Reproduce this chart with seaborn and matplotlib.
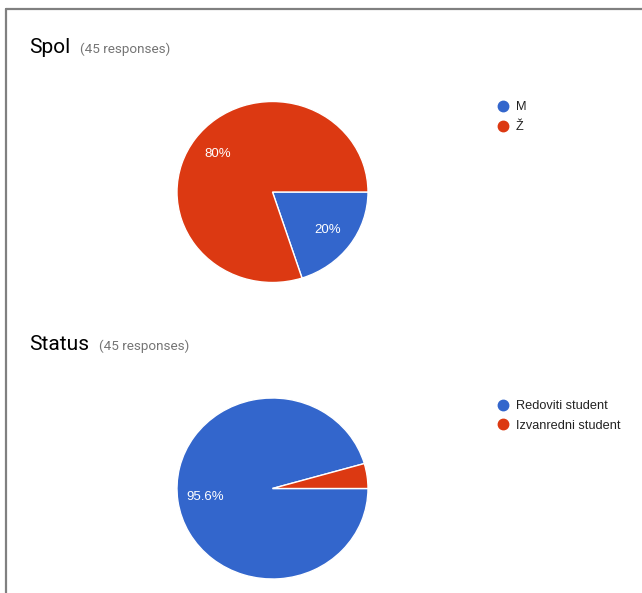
import matplotlib
matplotlib.use('Agg')
import matplotlib.pyplot as plt
import seaborn as sns
from matplotlib.lines import Line2D

# ---- data ----
spol_labels = ['M', 'Ž']
spol_counts = [9, 36]
status_labels = ['Redoviti student', 'Izvanredni student']
status_counts = [43, 2]
titles = ['Spol', 'Status']
responses_text = '(45 responses)'

sns.set_style('white')
plt.rcParams['font.family'] = ['Liberation Sans', 'DejaVu Sans']
colors = sns.color_palette(['#3366CC', '#DC3912'])

W, H = 642, 593
fig = plt.figure(figsize=(W / 100, H / 100), dpi=100)
fig.patch.set_facecolor('white')


def fx(x):
    return x / W


def fy(y):
    return 1 - y / H


def fmt(p):
    if p < 5:
        return ''
    return f'{p:.1f}'.rstrip('0').rstrip('.') + '%'


# border lines of the card (screenshot frame)
fig.add_artist(Line2D([fx(6), 1], [fy(9), fy(9)], transform=fig.transFigure,
                      color='#808080', lw=1.6))
fig.add_artist(Line2D([fx(6), fx(6)], [fy(9), 0], transform=fig.transFigure,
                      color='#808080', lw=1.6))

panels = [
    dict(title=titles[0], labels=spol_labels, counts=spol_counts,
         cy=192, title_base=53, resp_x=80, leg_top=101.5),
    dict(title=titles[1], labels=status_labels, counts=status_counts,
         cy=488.5, title_base=350.5, resp_x=99, leg_top=400),
]

cx, rx, ry = 272.5, 95.5, 90.5

for p in panels:
    fig.text(fx(29), fy(p['title_base']), p['title'], family='Roboto',
             fontsize=15, color='#000000', va='baseline', ha='left')
    fig.text(fx(p['resp_x']), fy(p['title_base'] - 0.5), responses_text,
             family='Roboto', fontsize=9.7, color='#757575', va='baseline',
             ha='left')

    ax = fig.add_axes([fx(cx - rx), fy(p['cy'] + ry), 2 * rx / W, 2 * ry / H])
    ax.pie(p['counts'], colors=colors, startangle=0, counterclock=False,
           autopct=fmt, pctdistance=0.71, radius=1,
           wedgeprops=dict(edgecolor='white', linewidth=1),
           textprops=dict(color='white', fontsize=9.5))
    ax.set_aspect('auto')
    ax.set_xlim(-1, 1)
    ax.set_ylim(-1, 1)
    ax.axis('off')

    handles = [Line2D([], [], marker='o', linestyle='', markersize=7.5,
                      markerfacecolor=c, markeredgecolor=c) for c in colors]
    fig.legend(handles, p['labels'], loc='upper left',
               bbox_to_anchor=(fx(498), fy(p['leg_top'])),
               frameon=False, fontsize=9.2, handlelength=0.85,
               handletextpad=0.55, borderpad=0, borderaxespad=0,
               labelspacing=0.62, labelcolor='#222222')

fig.savefig('out.png', dpi=100, facecolor='white')
